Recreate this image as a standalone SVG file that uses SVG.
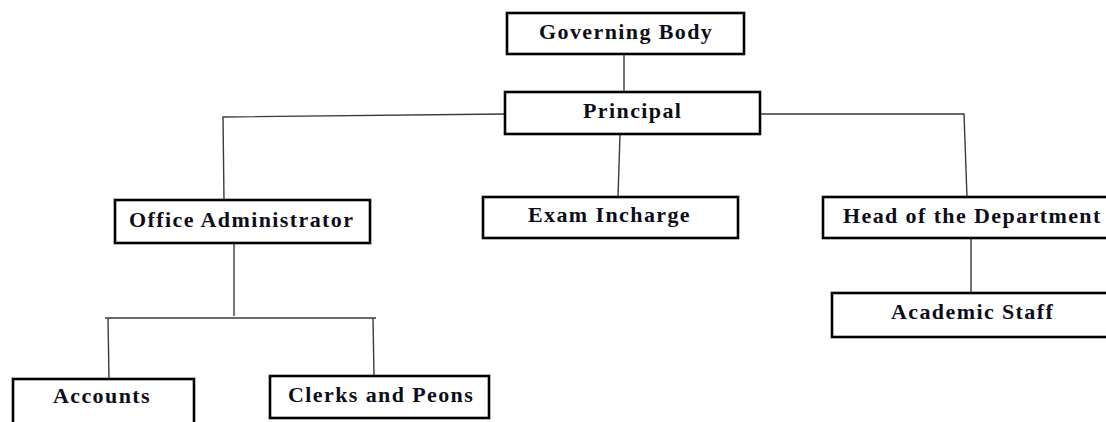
<svg xmlns="http://www.w3.org/2000/svg" width="1106" height="422" viewBox="0 0 1106 422">
<style>
.box{fill:#fff;stroke:#000;stroke-width:2.6}
.lbl{font-family:"Liberation Serif","Times New Roman",serif;font-weight:bold;font-size:22px;letter-spacing:1.4px;fill:#0d0d1a}
.conn{fill:none;stroke:#3a3a3a;stroke-width:1.4}
</style>
<rect width="1106" height="422" fill="#fff"/>
<g id="connectors">
<line class="conn" x1="624" y1="54" x2="624" y2="92"/>
<polyline class="conn" points="505,114 223,117 224,200"/>
<line class="conn" x1="620" y1="134" x2="618" y2="197"/>
<polyline class="conn" points="760,114 964,114 967,197"/>
<line class="conn" x1="971" y1="238" x2="971" y2="293"/>
<line class="conn" x1="234" y1="243" x2="234" y2="316"/>
<line class="conn" x1="105" y1="318" x2="376" y2="318"/>
<line class="conn" x1="108" y1="318" x2="109" y2="379"/>
<line class="conn" x1="373" y1="318" x2="374" y2="376"/>
</g>
<g id="governing-body">
<rect class="box" x="507" y="13" width="237" height="41"/>
<text class="lbl" x="539" y="39">Governing Body</text>
</g>
<g id="principal">
<rect class="box" x="505" y="92" width="255" height="42"/>
<text class="lbl" x="583" y="118">Principal</text>
</g>
<g id="office-administrator">
<rect class="box" x="115" y="200" width="255" height="43"/>
<text class="lbl" x="129" y="227">Office Administrator</text>
</g>
<g id="exam-incharge">
<rect class="box" x="483" y="197" width="255" height="41"/>
<text class="lbl" x="528" y="222">Exam Incharge</text>
</g>
<g id="head-of-department">
<rect class="box" x="823" y="197" width="300" height="41"/>
<text class="lbl" x="843" y="223">Head of the Department</text>
</g>
<g id="academic-staff">
<rect class="box" x="832" y="293" width="300" height="44"/>
<text class="lbl" x="891" y="319">Academic Staff</text>
</g>
<g id="accounts">
<rect class="box" x="13" y="379" width="181" height="60"/>
<text class="lbl" x="53" y="403">Accounts</text>
</g>
<g id="clerks-and-peons">
<rect class="box" x="270" y="376" width="219" height="42"/>
<text class="lbl" x="288" y="402">Clerks and Peons</text>
</g>
</svg>
